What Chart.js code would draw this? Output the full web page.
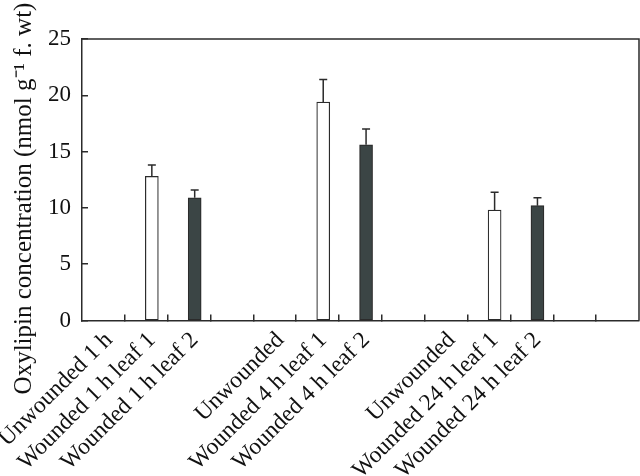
<!DOCTYPE html>
<html>
<head>
<meta charset="utf-8">
<script src="https://cdn.jsdelivr.net/npm/chart.js@4.4.1/dist/chart.umd.min.js"></script>
<style>
  html, body { margin: 0; padding: 0; background: #fff; }
</style>
</head>
<body>
<canvas id="myChart" width="640" height="476"></canvas>
<script>
const categories = [
    'Unwounded 1 h',
    'Wounded 1 h leaf 1',
    'Wounded 1 h leaf 2',
    'Unwounded',
    'Wounded 4 h leaf 1',
    'Wounded 4 h leaf 2',
    'Unwounded',
    'Wounded 24 h leaf 1',
    'Wounded 24 h leaf 2',
];
const concentration = [null, 12.8, 10.9, null, 19.4, 15.6, null, 9.8, 10.2];
const errorUp = [null, 1.0, 0.7, null, 2.0, 1.4, null, 1.6, 0.7];
const yTicks = [0, 5, 10, 15, 20, 25];

// 3 groups of 3 samples, one empty slot after each group, 13 slots on the axis
const SLOTS = 13;
const SHIFT = 0.63;
const slotOf = (i) => Math.floor(i / 3) * 4 + (i % 3);
const xOf = (i) => slotOf(i) + SHIFT;

const FONT = "'Liberation Serif', 'Times New Roman', serif";
const INK = '#2b2b2b';

const points = categories.map((c, i) => ({ x: xOf(i), y: concentration[i] }));
const fills = categories.map((c, i) => (i % 3 === 2 ? '#3b4545' : '#ffffff'));

const errorBars = {
    id: 'errorBars',
    afterDatasetsDraw(chart) {
        const ctx = chart.ctx;
        const y = chart.scales.y;
        const meta = chart.getDatasetMeta(0);
        ctx.save();
        ctx.strokeStyle = INK;
        ctx.lineWidth = 1.5;
        meta.data.forEach((bar, i) => {
            if (concentration[i] == null) return;
            const top = y.getPixelForValue(concentration[i] + errorUp[i]);
            ctx.beginPath();
            ctx.moveTo(bar.x, bar.y);
            ctx.lineTo(bar.x, top);
            ctx.moveTo(bar.x - 4, top);
            ctx.lineTo(bar.x + 4, top);
            ctx.stroke();
        });
        ctx.restore();
    }
};

const frame = {
    id: 'frame',
    afterDraw(chart) {
        const { ctx, chartArea: a } = chart;
        ctx.save();
        ctx.strokeStyle = INK;
        ctx.lineWidth = 1.5;
        ctx.beginPath();
        ctx.moveTo(a.left, a.top);
        ctx.lineTo(a.right, a.top);
        ctx.lineTo(a.right, a.bottom);
        ctx.stroke();
        ctx.restore();
    }
};

var ctx = document.getElementById('myChart').getContext('2d');
var chart = new Chart(ctx, {
    type: 'bar',
    data: {
        datasets: [{
            data: points,
            backgroundColor: fills,
            borderColor: INK,
            borderWidth: 1.2,
            borderSkipped: false,
            barThickness: 13,
        }]
    },
    options: {
        responsive: false,
        animation: false,
        layout: { padding: { top: 39, right: 1, left: 0, bottom: 0 } },
        plugins: {
            legend: { display: false },
            tooltip: { enabled: false },
        },
        scales: {
            x: {
                type: 'linear',
                min: 0,
                max: SLOTS,
                offset: false,
                afterBuildTicks: (axis) => {
                    const vals = [];
                    for (let v = 1; v < SLOTS; v++) vals.push(v);
                    categories.forEach((c, i) => vals.push(xOf(i)));
                    vals.sort((a, b) => a - b);
                    axis.ticks = vals.map((v) => ({ value: v }));
                },
                afterFit: (s) => {
                    s.height = 155.5;
                    s.paddingLeft = 0;
                    s.paddingRight = 0;
                },
                ticks: {
                    autoSkip: false,
                    minRotation: 45,
                    maxRotation: 45,
                    padding: 12,
                    color: '#111',
                    font: { family: FONT, size: 23.5 },
                    callback: (value) => {
                        const i = categories.findIndex((c, k) => Math.abs(xOf(k) - value) < 1e-6);
                        return i >= 0 ? categories[i] : '';
                    },
                },
                grid: {
                    offset: false,
                    drawOnChartArea: false,
                    tickLength: -6,
                    lineWidth: 1.5,
                    color: (c) => (c.tick && Number.isInteger(c.tick.value) ? INK : 'rgba(0,0,0,0)'),
                },
                border: { color: INK, width: 1.5 },
            },
            y: {
                min: 0,
                max: 25,
                afterBuildTicks: (axis) => {
                    axis.ticks = yTicks.map((v) => ({ value: v }));
                },
                afterFit: (s) => { s.width = 82; },
                ticks: {
                    padding: 17,
                    color: '#111',
                    font: { family: FONT, size: 23 },
                },
                grid: {
                    drawOnChartArea: false,
                    tickLength: -6,
                    lineWidth: 1.5,
                    color: INK,
                },
                border: { color: INK, width: 1.5 },
                title: {
                    display: true,
                    // trailing spaces push the centred title down a little, as in the original
                    text: 'Oxylipin concentration (nmol g\u207B\u00B9 f. wt)      ',
                    color: '#111',
                    font: { family: FONT, size: 25 },
                    padding: { top: 9, bottom: 0 },
                },
            },
        },
    },
    plugins: [errorBars, frame],
});
</script>
</body>
</html>
